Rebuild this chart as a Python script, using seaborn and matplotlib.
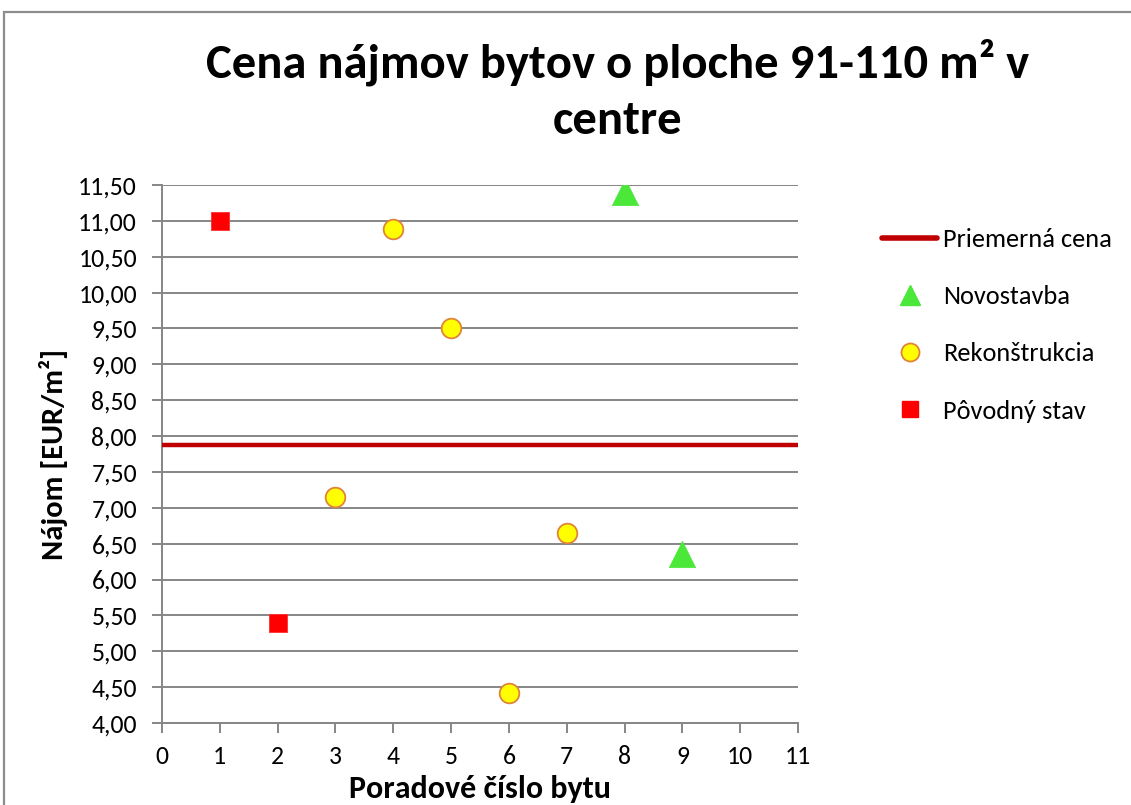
import numpy as np
import pandas as pd
import matplotlib
matplotlib.use("Agg")
import matplotlib.pyplot as plt
from matplotlib.lines import Line2D
from matplotlib.patches import Rectangle
from matplotlib.ticker import FuncFormatter, MultipleLocator
import seaborn as sns

# Data
povodny_x = [1, 2]
povodny_y = [11.00, 5.40]
rekon_x = [3, 4, 5, 6, 7]
rekon_y = [7.15, 10.89, 9.50, 4.42, 6.65]
novo_x = [8, 9]
novo_y = [11.40, 6.36]
priemerna_cena = 7.87

sns.set_theme(style="white")
plt.rcParams['font.family'] = ['Carlito', 'Liberation Sans', 'DejaVu Sans']
plt.rcParams['text.color'] = 'black'
plt.rcParams['axes.labelcolor'] = 'black'

fig = plt.figure(figsize=(11.31, 8.05), dpi=100)
ax = fig.add_axes([0.1432, 0.1019, 0.5624, 0.6683])

grid_col = '#868686'

# Linia priemernej ceny
ax.axhline(priemerna_cena, color='#C00000', lw=3.2, zorder=3, solid_capstyle='round')

df_p = pd.DataFrame({'x': povodny_x, 'y': povodny_y})
df_r = pd.DataFrame({'x': rekon_x, 'y': rekon_y})
df_n = pd.DataFrame({'x': novo_x, 'y': novo_y})

sns.scatterplot(data=df_p, x='x', y='y', ax=ax, marker='s', s=185, color='#FF0000',
                edgecolor='#FF3030', linewidth=0.6, zorder=4, legend=False)
sns.scatterplot(data=df_r, x='x', y='y', ax=ax, marker='o', s=200, color='#FFFF00',
                edgecolor='#E0843A', linewidth=1.3, zorder=4, legend=False)
sns.scatterplot(data=df_n, x='x', y='y', ax=ax, marker='^', s=360, color='#4BE83A',
                edgecolor='#4BE83A', linewidth=0.5, zorder=4, legend=False)

ax.set_xlim(0, 11)
ax.set_ylim(4.0, 11.5)
ax.xaxis.set_major_locator(MultipleLocator(1))
ax.yaxis.set_major_locator(MultipleLocator(0.5))
ax.yaxis.set_major_formatter(FuncFormatter(lambda v, p: f"{v:.2f}".replace('.', ',')))

ax.yaxis.grid(True, color=grid_col, lw=1.4)
ax.xaxis.grid(False)
ax.set_axisbelow(True)
for side in ['top', 'right']:
    ax.spines[side].set_visible(False)
for side in ['left', 'bottom']:
    ax.spines[side].set_color(grid_col)
    ax.spines[side].set_linewidth(1.4)

ax.tick_params(axis='both', which='major', direction='out', length=7, width=1.4,
               color=grid_col, labelsize=18.5, labelcolor='black')
ax.tick_params(axis='y', pad=11)
ax.tick_params(axis='x', pad=9)
ax.tick_params(left=True, bottom=True)

ax.set_xlabel('Poradové číslo bytu', fontsize=23, fontweight='bold', labelpad=5)
ax.set_ylabel('Nájom [EUR/m²]', fontsize=22, fontweight='bold', labelpad=7)

fig.text(0.546, 0.888, 'Cena nájmov bytov o ploche 91-110 m² v\ncentre', ha='center', va='center',
         fontsize=35, fontweight='bold', linespacing=1.4)

handles = [
    Line2D([], [], color='#C00000', lw=4, solid_capstyle='round'),
    Line2D([], [], marker='^', ls='none', markersize=14, color='#4BE83A'),
    Line2D([], [], marker='o', ls='none', markersize=13, markerfacecolor='#FFFF00',
           markeredgecolor='#E0843A', markeredgewidth=1.3),
    Line2D([], [], marker='s', ls='none', markersize=12, color='#FF0000'),
]
labels = ['Priemerná cena', 'Novostavba', 'Rekonštrukcia', 'Pôvodný stav']
fig.legend(handles, labels, loc='upper left', bbox_to_anchor=(0.7798, 0.717), frameon=False,
           fontsize=19, handlelength=2.1, handletextpad=0.2, labelspacing=1.3,
           borderpad=0, borderaxespad=0)

# ramik okolo grafu
fig.patches.append(Rectangle((4 / 1131, -0.2), 1.5, 1.2 - 12 / 805,
                             transform=fig.transFigure, fill=False, edgecolor='#8c8c8c',
                             lw=1.6, figure=fig))

fig.savefig('out.png', dpi=100)
